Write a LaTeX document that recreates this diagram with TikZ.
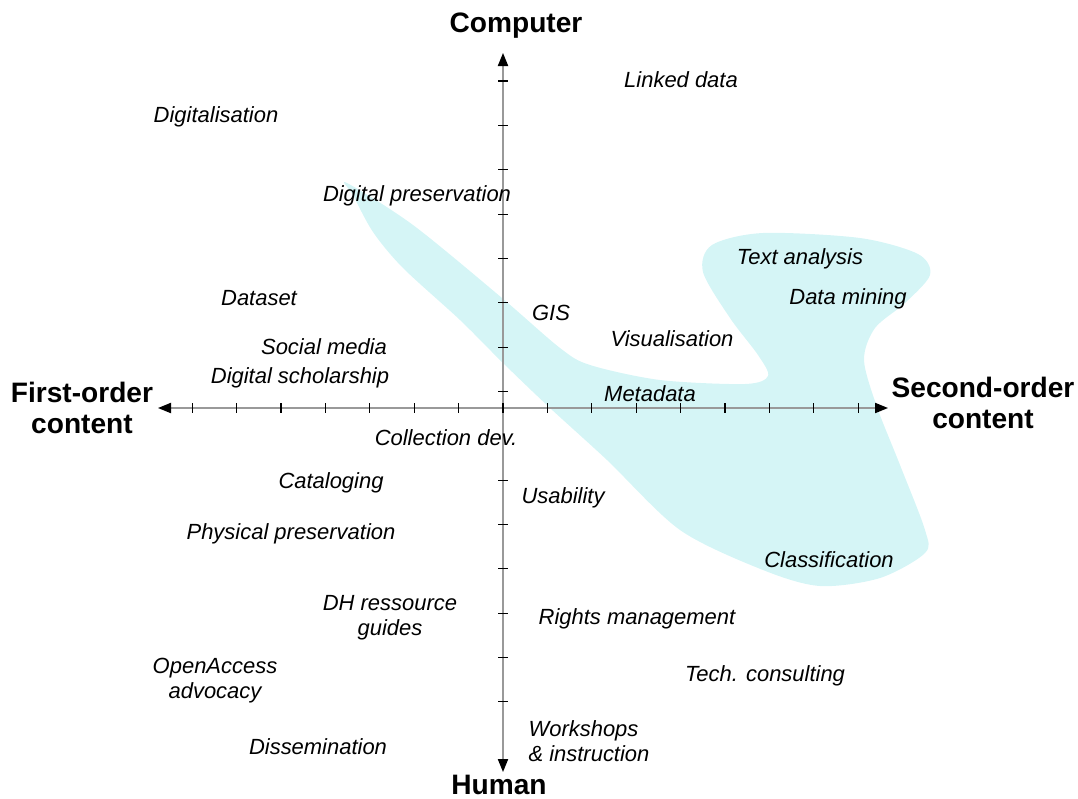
\documentclass[tikz,border=0pt]{standalone}
\usepackage{fontspec}
\setmainfont{Liberation Sans}
\usetikzlibrary{arrows.meta}
\definecolor{zone}{RGB}{213,245,246}
\tikzset{
  topic/.style={font=\fontsize{12.5}{14.2}\selectfont\itshape, inner sep=0pt, yshift=-0.03cm},
  pole/.style={font=\fontsize{16}{18}\selectfont\bfseries, align=center, inner sep=0pt},
  axis/.style={black!40, line width=0.8pt,
    {Triangle[length=7.4pt,width=5.8pt,color=black]}-{Triangle[length=7.4pt,width=5.8pt,color=black]}},
  tick/.style={black, line width=0.6pt}
}
\begin{document}
\begin{tikzpicture}[x=0.02cm, y=-0.02cm]
  \useasboundingbox (0,0) rectangle (1078,798);
  % highlighted area
  \fill[zone] plot[smooth cycle, tension=0.5] coordinates {
    (347,183) (413,225) (502,298) (560,348) (590,365) (660,380) (745,384)
    (768,376) (758,355) (730,318) (703,272) (712,245) (763,233) (860,238)
    (918,254) (930,275) (905,303) (875,328) (864,360) (877,407) (900,465)
    (925,530) (925,553) (880,578) (820,586) (763,570) (680,530) (607,460)
    (550,408) (503,363) (460,320) (403,268) (373,232) (353,195)};
  % axes
  \coordinate (west) at (158,408);
  \coordinate (east) at (888,408);
  \coordinate (north) at (503,53);
  \coordinate (south) at (503,772);
  \draw[axis] (west) -- (east);
  \draw[axis] (south) -- (north);
  \foreach \i in {-7,...,8}
    \draw[tick] (503+44.4*\i,403) -- (503+44.4*\i,413);
  \foreach \k in {0,...,7,9,10,...,14}
    \draw[tick] (498,81+44.35*\k) -- (508,81+44.35*\k);
  % poles
  \node[pole] (computer) at (516,26) {Computer};
  \node[pole] (human) at (499,785) {Human};
  \node[pole] (first) at (82,408) {First-order\\content};
  \node[pole] (second) at (983,403) {Second-order\\content};
  % activities
  \node[topic] (linked) at (681,78) {Linked data};
  \node[topic] (digitalisation) at (216,115) {Digitalisation};
  \node[topic] (digipres) at (417,194) {Digital preservation};
  \node[topic] (textan) at (800,257) {Text analysis};
  \node[topic] (mining) at (848,297) {Data mining};
  \node[topic] (dataset) at (259,297) {Dataset};
  \node[topic] (gis) at (551,311) {GIS};
  \node[topic] (visual) at (672,337) {Visualisation};
  \node[topic] (social) at (324,345) {Social media};
  \node[topic] (scholar) at (300,376) {Digital scholarship};
  \node[topic] (metadata) at (650,392) {Metadata};
  \node[topic] (colldev) at (446,436) {Collection dev.};
  \node[topic] (catalog) at (331,481) {Cataloging};
  \node[topic] (usability) at (563,496) {Usability};
  \node[topic] (physpres) at (291,532) {Physical preservation};
  \node[topic] (classif) at (829,558) {Classification};
  \node[topic, align=center] (dhguides) at (390,616) {DH ressource\\guides};
  \node[topic] (rights) at (637,617) {Rights management};
  \node[topic, align=center] (openacc) at (215,679) {OpenAccess\\advocacy};
  \node[topic] (techcons) at (765,674) {Tech. consulting};
  \node[topic, align=left] (workshops) at (589,740) {Workshops\\\& instruction};
  \node[topic] (dissem) at (318,745) {Dissemination};
\end{tikzpicture}
\end{document}
